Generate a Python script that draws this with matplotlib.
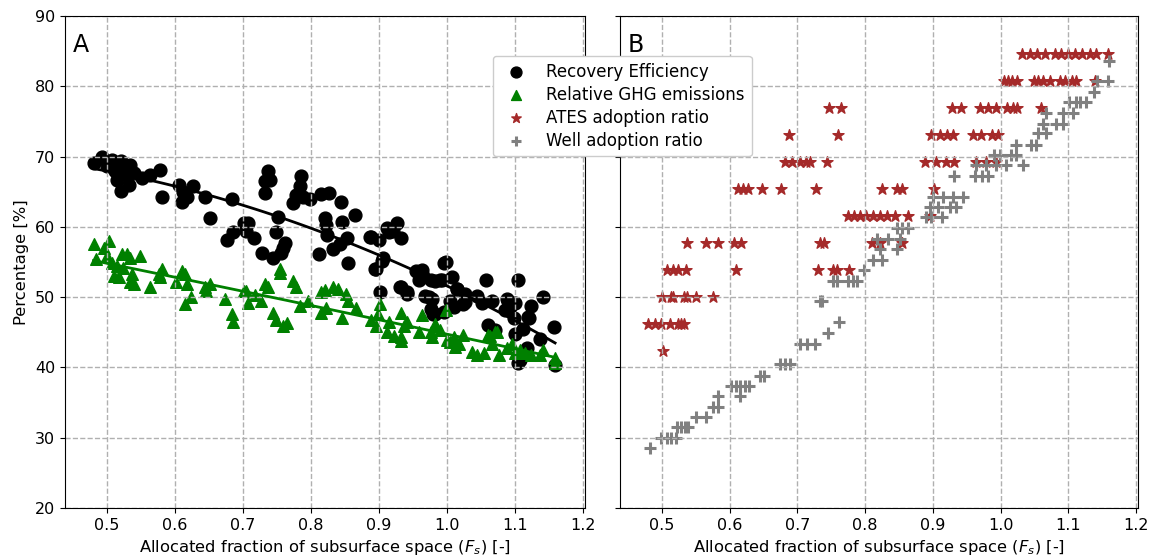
import numpy as np
import matplotlib
matplotlib.use('Agg')
import matplotlib.pyplot as plt

# panel A: recovery efficiency (black circles)
re_x = [0.480, 0.493, 0.500, 0.507, 0.512, 0.520, 0.524, 0.529, 0.515, 0.534,
        0.539, 0.532, 0.520, 0.551, 0.563, 0.578, 0.580, 0.605, 0.612, 0.617,
        0.610, 0.626, 0.644, 0.651, 0.683, 0.676, 0.685, 0.702, 0.705,
        0.707, 0.716, 0.737, 0.732, 0.739, 0.732, 0.728, 0.744, 0.749, 0.752,
        0.758, 0.762, 0.756, 0.785, 0.783, 0.778, 0.773, 0.788, 0.798, 0.814,
        0.826, 0.844, 0.820, 0.822, 0.824, 0.812, 0.846, 0.864, 0.853, 0.843,
        0.833, 0.854, 0.888, 0.900, 0.912, 0.927, 0.920, 0.933, 0.906, 0.895,
        0.902, 0.933, 0.941,
        0.998, 0.963, 0.959, 0.976, 0.990, 1.007, 1.015, 1.027, 1.005, 0.973,
        0.976, 0.983, 0.995, 1.010, 1.027, 1.044, 1.051, 1.066, 1.058, 1.088,
        1.093, 1.085, 1.100, 1.105, 1.124, 1.119, 1.141, 1.061, 1.071, 1.100,
        1.112, 1.137, 1.157, 1.117, 1.105, 1.159, 0.978,
        0.955, 0.965, 0.982, 0.992, 0.996, 0.968, 0.980, 1.014, 1.024, 1.068,
        1.090, 1.098, 1.120, 1.107, 0.931, 0.941, 0.894, 0.904, 0.887, 0.914]
re_y = [69.1, 69.9, 68.6, 69.5, 67.9, 69.3, 68.3, 67.4, 66.7, 68.8,
        67.6, 66.0, 65.1, 66.9, 67.4, 68.1, 64.3, 66.0, 65.0, 64.3,
        63.6, 65.8, 64.3, 61.3, 63.9, 58.2, 59.2, 60.6, 59.4,
        60.6, 58.4, 67.9, 66.5, 66.6, 64.8, 56.3, 55.6, 59.2, 61.4,
        57.0, 57.7, 56.3, 67.2, 65.8, 64.6, 63.4, 64.3, 63.9, 64.7,
        64.8, 63.5, 61.3, 60.3, 58.9, 56.1, 60.7, 61.7, 58.4, 57.5,
        56.9, 54.9, 58.5, 58.2, 59.8, 60.6, 59.4, 58.4, 55.5, 54.0,
        50.7, 51.5, 50.7,
        55.0, 53.8, 52.4, 52.4, 52.4, 52.9, 51.2, 50.5, 49.5, 50.0,
        48.3, 47.6, 47.9, 48.6, 49.3, 50.2, 49.1, 49.5, 52.4, 49.8,
        48.6, 48.1, 49.1, 52.4, 48.7, 47.2, 50.0, 46.0, 45.3, 44.8,
        45.5, 44.1, 45.8, 42.7, 40.6, 40.3, 49.8,
        53.7, 53.0, 52.3, 52.5, 54.9, 50.2, 47.6, 51.1, 49.0, 45.2,
        49.5, 47.1, 47.1, 41.0, 51.4, 50.4, 54.0, 55.1, 58.5, 59.2]

# panel A: relative GHG emissions (green triangles)
ghg_x = [0.480, 0.502, 0.495, 0.483, 0.500, 0.507, 0.515, 0.522, 0.529, 0.534,
         0.549, 0.510, 0.517, 0.524, 0.537, 0.534, 0.539, 0.563, 0.580, 0.578,
         0.576, 0.602, 0.610, 0.615, 0.617, 0.615, 0.624, 0.644, 0.646, 0.652,
         0.673, 0.683, 0.685, 0.702, 0.707,
         0.705, 0.717, 0.727, 0.732, 0.737, 0.754, 0.755, 0.773, 0.778, 0.744,
         0.749, 0.759, 0.765, 0.784, 0.795, 0.815, 0.820, 0.832, 0.840, 0.815,
         0.822, 0.846, 0.854, 0.851, 0.866, 0.888, 0.898, 0.902, 0.895, 0.915,
         0.912, 0.922, 0.933, 0.932, 0.937,
         0.932, 0.941, 0.963, 0.959, 0.976, 0.983, 0.978, 0.990, 0.998, 1.000,
         1.005, 1.010, 1.017, 1.024, 1.012, 1.037, 1.044, 1.054, 1.061, 1.071,
         1.066, 1.076, 1.088, 1.095, 1.100, 1.107, 1.115, 1.124, 1.141, 1.137,
         1.159, 1.159, 1.063, 1.073]
ghg_y = [57.5, 58.0, 57.0, 55.4, 55.8, 54.8, 54.4, 56.1, 56.2, 55.6,
         55.8, 53.0, 52.9, 54.2, 53.3, 52.1, 51.8, 51.4, 54.0, 52.8,
         53.3, 52.1, 53.7, 53.3, 51.8, 49.0, 50.0, 51.4, 50.9, 51.8,
         49.7, 47.6, 46.4, 50.9, 49.2,
         50.9, 50.3, 49.5, 51.8, 51.4, 54.0, 53.5, 52.3, 51.4, 47.8,
         46.7, 45.9, 46.3, 48.8, 49.5, 50.7, 51.0, 51.4, 51.1, 47.8,
         48.5, 47.1, 49.5, 50.4, 48.5, 46.7, 47.6, 49.0, 45.9, 46.4,
         45.0, 44.5, 47.8, 43.8, 45.9,
         44.3, 46.5, 47.4, 45.0, 45.0, 46.2, 44.3, 45.3, 48.1, 43.9,
         43.6, 44.3, 43.4, 44.6, 42.9, 42.2, 41.7, 42.0, 44.6, 45.0,
         43.4, 41.7, 42.7, 43.4, 42.0, 42.5, 42.0, 41.7, 42.5, 41.7,
         41.3, 40.6, 44.5, 45.0]

# panel B: ATES adoption ratio (stars), grouped by level
ates_x = [1.032, 1.043, 1.054, 1.066, 1.081, 1.090, 1.100, 1.110, 1.121, 1.132, 1.141, 1.159,
          1.005, 1.011, 1.017, 1.024, 1.049, 1.056, 1.063, 1.073, 1.088, 1.095, 1.105, 1.112, 1.140,
          0.747, 0.765, 0.929, 0.942, 0.969, 0.981, 0.994, 1.009, 1.018, 1.025, 1.060,
          0.688, 0.760, 0.898, 0.910, 0.921, 0.930, 0.959, 0.971, 0.988, 0.996,
          0.682, 0.692, 0.704, 0.713, 0.719, 0.744, 0.888, 0.905, 0.919, 0.932, 0.964, 0.979, 0.994,
          0.612, 0.620, 0.627, 0.647, 0.676, 0.728, 0.825, 0.847, 0.854, 0.901,
          0.775, 0.783, 0.793, 0.802, 0.812, 0.822, 0.832, 0.844, 0.863, 0.896,
          0.537, 0.565, 0.582, 0.606, 0.617, 0.734, 0.740, 0.810, 0.822, 0.854,
          0.508, 0.516, 0.523, 0.535, 0.610, 0.731, 0.753, 0.758, 0.776,
          0.500, 0.513, 0.517, 0.533, 0.537, 0.550, 0.576,
          0.479, 0.489, 0.498, 0.512, 0.523, 0.528, 0.533,
          0.502]
ates_y = [84.6] * 12 + [80.8] * 13 + [76.9] * 11 + [73.1] * 10 + [69.2] * 13 + \
         [65.4] * 10 + [61.5] * 10 + [57.7] * 10 + [53.8] * 9 + [50.0] * 7 + \
         [46.2] * 7 + [42.3]

# panel B: well adoption ratio (plus)
well_x = [0.483, 0.499, 0.508, 0.514, 0.521, 0.522, 0.528, 0.534, 0.539, 0.550,
          0.565, 0.575, 0.582, 0.582, 0.602, 0.609, 0.615, 0.622, 0.628, 0.615,
          0.645, 0.651, 0.675, 0.682, 0.689, 0.704, 0.714, 0.726, 0.745, 0.762,
          0.734, 0.737, 0.753, 0.758, 0.775, 0.782, 0.788, 0.798, 0.812, 0.825,
          0.822, 0.847, 0.817, 0.834, 0.852, 0.847, 0.855, 0.864, 0.890, 0.898,
          0.914, 0.896, 0.908, 0.925, 0.934, 0.900, 0.915, 0.930, 0.944, 0.932,
          0.962, 0.972, 0.981, 0.964, 0.979, 0.994, 1.008, 1.033, 0.991, 0.999,
          1.016, 1.023, 1.023, 1.045, 1.053, 1.055, 1.067, 1.062, 1.082, 1.092,
          1.067, 1.092, 1.107, 1.101, 1.111, 1.118, 1.126, 1.138, 1.142, 1.159,
          1.160]
well_y = [28.5, 30.0, 30.0, 30.0, 30.0, 31.5, 31.5, 31.5, 31.5, 32.9,
          32.9, 34.4, 34.4, 35.9, 37.4, 37.4, 37.4, 37.4, 37.4, 35.9,
          38.8, 38.8, 40.5, 40.5, 40.5, 43.3, 43.3, 43.3, 44.9, 46.4,
          49.4, 49.4, 52.3, 52.3, 52.3, 52.3, 52.3, 53.9, 55.3, 55.3,
          56.8, 56.8, 58.3, 58.3, 58.3, 59.8, 59.8, 59.8, 61.4, 61.4,
          61.4, 62.8, 62.8, 62.8, 62.8, 64.3, 64.3, 64.3, 64.3, 67.2,
          67.2, 67.2, 67.2, 68.8, 68.8, 68.8, 68.8, 68.8, 70.2, 70.2,
          70.2, 70.2, 71.7, 71.7, 71.7, 73.3, 73.3, 74.7, 74.7, 74.7,
          76.2, 76.2, 76.2, 77.7, 77.7, 77.7, 77.7, 79.2, 80.7, 80.7,
          83.6]

x_ticks = [0.5, 0.6, 0.7, 0.8, 0.9, 1.0, 1.1, 1.2]
y_ticks = [20, 30, 40, 50, 60, 70, 80, 90]

fig = plt.figure(figsize=(11.56, 5.6), dpi=100)
ax1 = fig.add_axes([65 / 1156, 52 / 560, 520 / 1156, 492 / 560])
ax2 = fig.add_axes([620 / 1156, 52 / 560, 518 / 1156, 492 / 560])

h1 = ax1.scatter(re_x, re_y, s=85, c='black', marker='o', label='Recovery Efficiency')
h2 = ax1.scatter(ghg_x, ghg_y, s=70, c='green', marker='^', label='Relative GHG emissions')

# quadratic trend lines
xx = np.linspace(min(re_x), max(re_x), 100)
ax1.plot(xx, np.polyval(np.polyfit(re_x, re_y, 2), xx), color='black', lw=2)
xx = np.linspace(min(ghg_x), max(ghg_x), 100)
ax1.plot(xx, np.polyval(np.polyfit(ghg_x, ghg_y, 2), xx), color='green', lw=2)

h3 = ax2.scatter(ates_x, ates_y, s=70, c='brown', marker='*', label='ATES adoption ratio')
h4 = ax2.scatter(well_x, well_y, s=70, c='grey', marker='+', linewidths=2.2,
                 label='Well adoption ratio')

for ax, letter in [(ax1, 'A'), (ax2, 'B')]:
    ax.set_xlim(0.438, 1.203)
    ax.set_ylim(20, 90)
    ax.set_xticks(x_ticks)
    ax.set_yticks(y_ticks)
    ax.grid(True, linestyle='--', color='#b0b0b0', lw=1)
    ax.tick_params(labelsize=11.5)
    ax.set_xlabel('Allocated fraction of subsurface space ($F_s$) [-]', fontsize=11.8)
    ax.text(0.015, 0.965, letter, transform=ax.transAxes, fontsize=17, va='top', ha='left')

ax2.tick_params(labelleft=False)
ax1.set_ylabel('Percentage [%]', fontsize=11.8)

fig.legend(handles=[h1, h2, h3, h4], loc='upper left',
           bbox_to_anchor=(493 / 1156, 1 - 56 / 560), borderaxespad=0,
           fontsize=12, framealpha=1, labelspacing=0.3, markerscale=0.85)

fig.savefig('out.png', dpi=100)
